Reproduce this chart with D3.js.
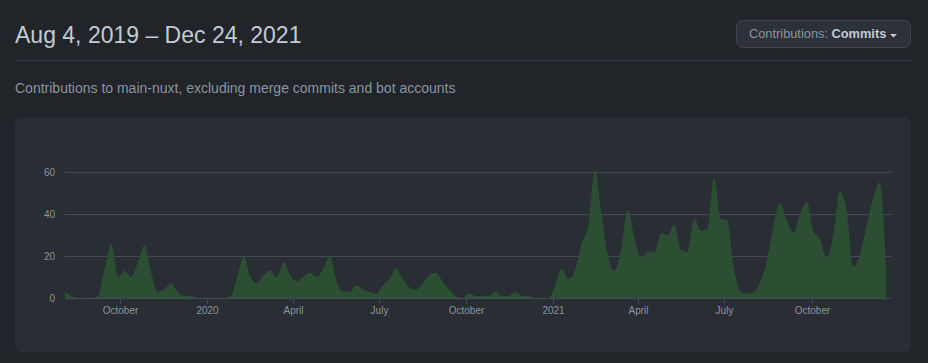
<!DOCTYPE html>
<html>
<head>
<meta charset="utf-8">
<script src="https://cdn.jsdelivr.net/npm/d3@7"></script>
<style>
  html, body { margin: 0; padding: 0; background: #212429; }
  svg { display: block; font-family: "Liberation Sans", Arial, sans-serif; }
</style>
</head>
<body>
<div id="chart"></div>
<script>
// weekly commit counts, first week starting Sunday Aug 4, 2019
var weekStart = new Date(2019, 7, 4),
    rangeEnd = new Date(2021, 11, 24)

var commits = [
  3, 1, 0, 0, 0, 1, 14, 26, 10, 13,
  10, 17, 25, 12, 3, 4, 7, 3, 1, 1,
  0, 0, 0, 0, 0, 1, 10, 20, 10, 7,
  11, 13, 10, 17, 11, 8, 10, 12, 10, 14,
  20, 8, 3, 3, 6, 4, 3, 2, 6, 9,
  14, 9, 5, 4, 7, 11, 12, 8, 4, 1,
  0, 2, 1, 1, 1, 3, 1, 1, 3, 1,
  1, 0, 0, 0, 6, 14, 9, 13, 26, 34,
  61, 40, 20, 13, 24, 42, 28, 19, 22, 22,
  31, 30, 35, 23, 22, 38, 32, 33, 57, 38,
  37, 14, 3, 2, 3, 8, 18, 35, 45, 37,
  31, 40, 46, 32, 28, 19, 30, 51, 42, 15,
  20, 34, 47, 55, 12
]

var yTicks = [0, 20, 40, 60]
var xTickDates = ["2019-10", "2020-01", "2020-04", "2020-07", "2020-10", "2021-01", "2021-04", "2021-07", "2021-10"]
var xTickLabels = ["October", "2020", "April", "July", "October", "2021", "April", "July", "October"]

var width = 928,
    height = 363

var data = commits.map(function(v, i) {
  return {date: d3.timeWeek.offset(weekStart, i), value: v}
})

var x = d3.scaleTime()
  .domain([weekStart, rangeEnd])
  .range([65, 891])

var y = d3.scaleLinear()
  .domain([0, 60])
  .range([298, 172])

var parseMonth = d3.timeParse("%Y-%m")

var svg = d3.select("#chart").append("svg")
    .attr("width", width)
    .attr("height", height)

// header
svg.append("text")
    .attr("x", 15)
    .attr("y", 43)
    .attr("fill", "#c2cad3")
    .style("font-size", "23px")
    .text("Aug 4, 2019 \u2013 Dec 24, 2021")

svg.append("line")
    .attr("x1", 15).attr("x2", 911)
    .attr("y1", 60.5).attr("y2", 60.5)
    .attr("stroke", "#363b43")

svg.append("text")
    .attr("x", 15)
    .attr("y", 93)
    .attr("fill", "#8b949e")
    .style("font-size", "14px")
    .text("Contributions to main-nuxt, excluding merge commits and bot accounts")

// dropdown button
var btn = svg.append("g")
btn.append("rect")
    .attr("x", 736.5).attr("y", 20.5)
    .attr("width", 174).attr("height", 27)
    .attr("rx", 6)
    .attr("fill", "#2d3139")
    .attr("stroke", "#40464f")
var btnText = btn.append("text")
    .attr("x", 749)
    .attr("y", 38)
    .style("font-size", "12.8px")
btnText.append("tspan").attr("fill", "#8b949e").text("Contributions: ")
btnText.append("tspan").attr("fill", "#c2cad3").style("font-weight", "bold").text("Commits")
btn.append("path")
    .attr("d", "M890,34 L897,34 L893.5,37.5 Z")
    .attr("fill", "#c2cad3")

// chart panel
svg.append("rect")
    .attr("x", 15).attr("y", 118)
    .attr("width", 896).attr("height", 234)
    .attr("rx", 6)
    .attr("fill", "#292d34")

svg.selectAll("line.grid")
    .data(yTicks)
  .enter().append("line")
    .attr("class", "grid")
    .attr("x1", 65).attr("x2", 891)
    .attr("y1", function(d) { return Math.round(y(d)) + 0.5 })
    .attr("y2", function(d) { return Math.round(y(d)) + 0.5 })
    .attr("stroke", "#454b54")

svg.selectAll("text.ylabel")
    .data(yTicks)
  .enter().append("text")
    .attr("class", "ylabel")
    .attr("x", 55)
    .attr("y", function(d) { return y(d) })
    .attr("dy", "0.35em")
    .attr("text-anchor", "end")
    .attr("fill", "#8b949e")
    .style("font-size", "10px")
    .text(function(d) { return d })

var area = d3.area()
  .x(function(d) { return x(d.date) })
  .y0(y(0))
  .y1(function(d) { return y(d.value) })
  .curve(d3.curveMonotoneX)

svg.append("path")
    .datum(data)
    .attr("fill", "#2c4f33")
    .attr("d", area)

var xAxis = svg.selectAll("g.xtick")
    .data(xTickDates)
  .enter().append("g")
    .attr("class", "xtick")
    .attr("transform", function(d) { return "translate(" + (Math.round(x(parseMonth(d))) + 0.5) + ",0)" })

xAxis.append("line")
    .attr("y1", 299).attr("y2", 304)
    .attr("stroke", "#454b54")

xAxis.append("text")
    .attr("y", 314)
    .attr("text-anchor", "middle")
    .attr("fill", "#8b949e")
    .style("font-size", "10px")
    .text(function(d, i) { return xTickLabels[i] })
</script>
</body>
</html>
